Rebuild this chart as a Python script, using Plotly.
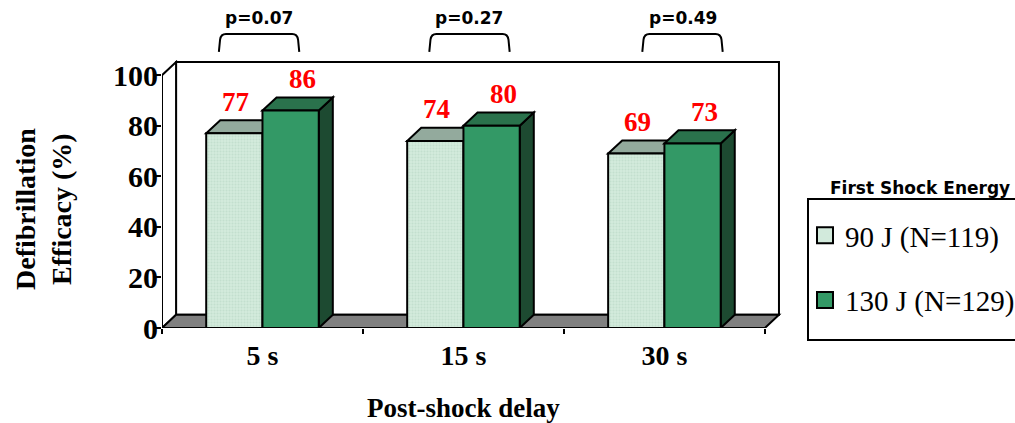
import plotly.graph_objects as go

# ---- data -------------------------------------------------------------
delays = ["5 s", "15 s", "30 s"]
energy_names = ["90 J (N=119)", "130 J (N=129)"]
efficacy_90j = [77, 74, 69]
efficacy_130j = [86, 80, 73]
p_labels = ["p=0.07", "p=0.27", "p=0.49"]
y_ticks = [0, 20, 40, 60, 80, 100]

# ---- styling ----------------------------------------------------------
W, H = 1015, 423
M_L, M_R, M_T, M_B = 162, 230, 60, 95
BAR_W = 0.28            # bar width in category units
DX, DY = 0.07, 5.2      # depth of the 3-D extrusion (category units, %)
Y_MAX = 106
X_EXTRA = 0.1
front_col = ["#d2eadc", "#339966"]
top_col = ["#93aa9d", "#2a724c"]
side_col = ["#7f9a8a", "#1d4a31"]
bar_offsets = [-BAR_W, 0.0]
label_xshift = [1, 12]
bracket_centers = [-0.017, 1.03, 2.09]
BRACKET_HALF = 0.2
BRACKET_TOP, BRACKET_BOT, P_TEXT_Y = 116.3, 109.2, 122.8

SERIF = "Liberation Serif"
SANS = "DejaVu Sans"

series = [efficacy_90j, efficacy_130j]
xpos = list(range(len(delays)))
x_lo, x_hi = -0.5, len(delays) - 0.5
plot_w = W - M_L - M_R
plot_h = H - M_T - M_B


def py(v):
    """percent value -> paper y"""
    return v / Y_MAX


def px_x(p):
    """pixel column -> paper x"""
    return (p - M_L) / plot_w


def px_y(p):
    """pixel row -> paper y"""
    return (H - M_B - p) / plot_h


fig = go.Figure()

# front faces of the bars
for i, vals in enumerate(series):
    marker = dict(color=front_col[i], line=dict(color="black", width=2))
    if i == 0:
        marker["pattern"] = dict(shape=".", fillmode="overlay", fgcolor="#b3d4bf",
                                 size=3, solidity=0.35)
    fig.add_trace(go.Bar(
        x=xpos, y=vals, width=BAR_W, offset=bar_offsets[i],
        marker=marker, showlegend=False, hoverinfo="skip",
    ))

# legend entries
for i, name in enumerate(energy_names):
    fig.add_trace(go.Scatter(
        x=[None], y=[None], mode="markers", name=name,
        legendgroup=f"g{i}",
        marker=dict(symbol="square", size=16, color=front_col[i],
                    line=dict(color="black", width=2)),
    ))

shapes = []
LINE = dict(color="black", width=2)

# back wall, side wall, floor
shapes.append(dict(type="rect", xref="x", yref="y", layer="below",
                   x0=x_lo + DX, x1=x_hi + DX, y0=DY, y1=100 + DY,
                   fillcolor="white", line=LINE))
shapes.append(dict(type="path", xref="x", yref="y", layer="below",
                   path=f"M{x_lo},0 L{x_lo},100 L{x_lo + DX},{100 + DY} L{x_lo + DX},{DY} Z",
                   fillcolor="white", line=LINE))
shapes.append(dict(type="path", xref="x", yref="y", layer="below",
                   path=f"M{x_lo},0 L{x_hi},0 L{x_hi + DX},{DY} L{x_lo + DX},{DY} Z",
                   fillcolor="#808080", line=LINE))

# top and side faces of each bar
for i, vals in enumerate(series):
    for j, v in enumerate(vals):
        x0 = xpos[j] + bar_offsets[i]
        x1 = x0 + BAR_W
        shapes.append(dict(type="path", xref="x", yref="y", layer="below",
                           path=f"M{x1},0 L{x1},{v} L{x1 + DX},{v + DY} L{x1 + DX},{DY} Z",
                           fillcolor=side_col[i], line=LINE))
        shapes.append(dict(type="path", xref="x", yref="y", layer="below",
                           path=f"M{x0},{v} L{x1},{v} L{x1 + DX},{v + DY} L{x0 + DX},{v + DY} Z",
                           fillcolor=top_col[i], line=LINE))

# significance brackets
for c in bracket_centers:
    a, b = c - BRACKET_HALF, c + BRACKET_HALF
    yt, yb = py(BRACKET_TOP), py(BRACKET_BOT)
    yk = py(BRACKET_TOP - 2.2)
    r = 0.035
    shapes.append(dict(type="path", xref="x", yref="paper",
                       path=(f"M{a},{yb} L{a + 0.006},{yk} Q{a + 0.01},{yt} {a + r},{yt} "
                             f"L{b - r},{yt} Q{b - 0.01},{yt} {b - 0.006},{yk} L{b},{yb}"),
                       line=LINE))

# legend frame
shapes.append(dict(type="rect", xref="paper", yref="paper",
                   x0=px_x(808), x1=px_x(1030), y0=px_y(340), y1=px_y(199),
                   line=LINE, fillcolor="rgba(0,0,0,0)"))

annotations = []
# value labels
for i, vals in enumerate(series):
    for j, v in enumerate(vals):
        annotations.append(dict(
            x=xpos[j] + bar_offsets[i] + BAR_W / 2, y=v + 12.5, xref="x", yref="y",
            xanchor="center", yanchor="middle",
            text=str(v), showarrow=False, xshift=label_xshift[i],
            font=dict(family=SERIF, size=27, color="#ff0000", weight="bold"),
        ))
# p values
for c, t in zip(bracket_centers, p_labels):
    annotations.append(dict(
        x=c, y=py(P_TEXT_Y), xref="x", yref="paper", text=t, showarrow=False,
        xanchor="center", yanchor="middle",
        font=dict(family=SANS, size=17, color="black", weight="bold"),
    ))
# axis titles
annotations.append(dict(
    x=(x_lo + x_hi) / 2, y=px_y(408), xref="x", yref="paper",
    xanchor="center", yanchor="middle",
    text="Post-shock delay", showarrow=False,
    font=dict(family=SERIF, size=27, color="black", weight="bold"),
))
annotations.append(dict(
    x=px_x(43), y=px_y(209), xref="paper", yref="paper", textangle=-90,
    xanchor="center", yanchor="middle",
    text="Defibrillation<br>Efficacy (%)", showarrow=False,
    font=dict(family=SERIF, size=28, color="black", weight="bold"),
))
# legend heading
annotations.append(dict(
    x=px_x(920), y=px_y(188), xref="paper", yref="paper", text="First Shock Energy",
    xanchor="center", yanchor="middle",
    showarrow=False, font=dict(family=SANS, size=17, color="black", weight="bold"),
))

fig.update_layout(
    width=W, height=H,
    margin=dict(l=M_L, r=M_R, t=M_T, b=M_B, autoexpand=False),
    plot_bgcolor="white", paper_bgcolor="white",
    barmode="overlay",
    shapes=shapes, annotations=annotations,
    showlegend=True,
    legend=dict(
        x=px_x(805), y=px_y(210), xanchor="left", yanchor="top",
        borderwidth=0, bgcolor="rgba(0,0,0,0)",
        font=dict(family=SERIF, size=29, color="black"),
        tracegroupgap=24,
    ),
    xaxis=dict(
        range=[x_lo, x_hi + X_EXTRA], tickmode="array", tickvals=xpos, ticktext=delays,
        ticks="", showgrid=False, zeroline=False, showline=False,
        ticklabelstandoff=8,
        tickfont=dict(family=SERIF, size=28, color="black", weight="bold"),
        minor=dict(tickmode="array", tickvals=[x_lo + k for k in range(len(delays) + 1)],
                   ticks="outside", ticklen=5, tickwidth=2, tickcolor="black"),
    ),
    yaxis=dict(
        range=[0, Y_MAX], tickmode="array", tickvals=y_ticks,
        ticks="outside", ticklen=5, tickwidth=2, tickcolor="black",
        showgrid=False, zeroline=False, showline=False,
        ticklabelstandoff=-8,
        tickfont=dict(family=SERIF, size=30, color="black", weight="bold"),
    ),
)

fig.write_html("out.html")
